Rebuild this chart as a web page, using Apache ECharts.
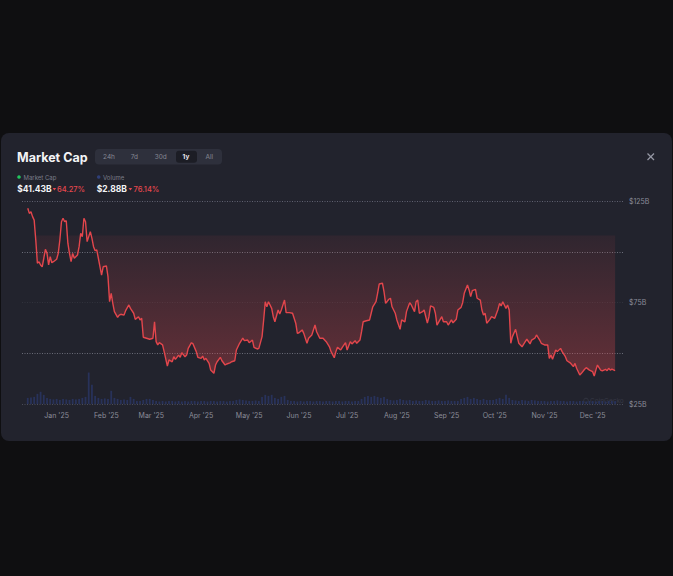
<!DOCTYPE html>
<html>
<head>
<meta charset="utf-8">
<script src="https://cdn.jsdelivr.net/npm/echarts@6/dist/echarts.min.js"></script>
<style>
html,body{margin:0;padding:0;background:#0f0f11;width:673px;height:576px;overflow:hidden;}
#card{position:absolute;left:1px;top:133px;width:671px;height:308px;background:#22232d;border-radius:8px;}
#chart{position:absolute;left:0;top:0;width:673px;height:576px;}
</style>
</head>
<body>
<div id="card"></div>
<div id="chart"></div>
<script>
// ---- data ----
const priceDates = [
  '2024-12-14','2024-12-15','2024-12-16','2024-12-17','2024-12-18','2024-12-19','2024-12-20','2024-12-21','2024-12-22','2024-12-23','2024-12-24','2024-12-25','2024-12-26','2024-12-27','2024-12-28','2024-12-29','2024-12-30',
  '2025-01-01','2025-01-02','2025-01-03','2025-01-04','2025-01-05','2025-01-06','2025-01-07','2025-01-08','2025-01-09','2025-01-10','2025-01-11','2025-01-12','2025-01-14','2025-01-15','2025-01-16','2025-01-17','2025-01-18','2025-01-19','2025-01-20','2025-01-22','2025-01-23','2025-01-24','2025-01-25','2025-01-26','2025-01-27','2025-01-29','2025-01-30',
  '2025-02-01','2025-02-02','2025-02-03','2025-02-04','2025-02-05','2025-02-06','2025-02-08','2025-02-09','2025-02-10','2025-02-12','2025-02-13','2025-02-15','2025-02-16','2025-02-18','2025-02-19','2025-02-21','2025-02-22','2025-02-23','2025-02-24','2025-02-26','2025-02-28',
  '2025-03-02','2025-03-03','2025-03-04','2025-03-05','2025-03-06','2025-03-08','2025-03-09','2025-03-11','2025-03-12','2025-03-14','2025-03-15','2025-03-16','2025-03-18','2025-03-19','2025-03-20','2025-03-22','2025-03-23','2025-03-24','2025-03-26','2025-03-27','2025-03-29','2025-03-30',
  '2025-04-01','2025-04-02','2025-04-03','2025-04-04','2025-04-06','2025-04-07','2025-04-09','2025-04-10','2025-04-11','2025-04-13','2025-04-14','2025-04-16','2025-04-17','2025-04-19','2025-04-20','2025-04-22','2025-04-23','2025-04-25','2025-04-27','2025-04-28','2025-04-30',
  '2025-05-01','2025-05-03','2025-05-04','2025-05-06','2025-05-07','2025-05-09','2025-05-10','2025-05-11','2025-05-12','2025-05-13','2025-05-15','2025-05-16','2025-05-17','2025-05-19','2025-05-20','2025-05-21','2025-05-23','2025-05-24','2025-05-26','2025-05-28','2025-05-30','2025-05-31',
  '2025-06-01','2025-06-03','2025-06-04','2025-06-06','2025-06-07','2025-06-09','2025-06-11','2025-06-12','2025-06-14','2025-06-16','2025-06-18','2025-06-20','2025-06-21','2025-06-23','2025-06-24','2025-06-25','2025-06-27','2025-06-28','2025-06-30',
  '2025-07-01','2025-07-03','2025-07-04','2025-07-06','2025-07-07','2025-07-09','2025-07-10','2025-07-11','2025-07-13','2025-07-15','2025-07-16','2025-07-17','2025-07-19','2025-07-20','2025-07-21','2025-07-23','2025-07-24','2025-07-25','2025-07-27','2025-07-28','2025-07-29','2025-07-31',
  '2025-08-01','2025-08-03','2025-08-04','2025-08-06','2025-08-07','2025-08-09','2025-08-10','2025-08-12','2025-08-13','2025-08-14','2025-08-15','2025-08-17','2025-08-18','2025-08-20','2025-08-21','2025-08-22','2025-08-24','2025-08-25','2025-08-26','2025-08-28','2025-08-29','2025-08-30',
  '2025-09-01','2025-09-02','2025-09-04','2025-09-05','2025-09-07','2025-09-08','2025-09-10','2025-09-11','2025-09-12','2025-09-14','2025-09-15','2025-09-16','2025-09-17','2025-09-19','2025-09-20','2025-09-22','2025-09-23','2025-09-24','2025-09-25','2025-09-26','2025-09-28','2025-09-29',
  '2025-10-01','2025-10-03','2025-10-04','2025-10-05','2025-10-06','2025-10-08','2025-10-09','2025-10-10','2025-10-11','2025-10-12','2025-10-14','2025-10-15','2025-10-16','2025-10-18','2025-10-20','2025-10-21','2025-10-23','2025-10-24','2025-10-26','2025-10-27','2025-10-29','2025-10-30',
  '2025-11-01','2025-11-03','2025-11-04','2025-11-05','2025-11-06','2025-11-08','2025-11-09','2025-11-11','2025-11-12','2025-11-14','2025-11-15','2025-11-17','2025-11-19','2025-11-20','2025-11-21','2025-11-23','2025-11-24','2025-11-26','2025-11-27','2025-11-29',
  '2025-12-01','2025-12-02','2025-12-03','2025-12-04','2025-12-06','2025-12-07','2025-12-09','2025-12-10','2025-12-11','2025-12-12','2025-12-13','2025-12-15'
];
// market cap, billions USD
const marketCap = [
  121.4,118.9,119.7,117.3,115.6,105.8,94.3,95.1,93.5,92.6,96.8,101.2,99.2,93.5,97.6,94.6,95.1,
  96.3,99.2,105.8,114.8,116.5,114.8,115.3,104.2,99.2,95.1,99.2,96.8,98.4,102.5,109.1,107.4,116.5,114.8,105.0,109.9,106.6,102.5,100.5,100.9,96.8,88.5,92.6,
  93.0,87.7,75.4,79.5,74.6,70.5,67.7,68.8,69.2,68.8,71.0,73.8,72.1,69.7,66.7,68.0,66.4,67.2,57.9,57.4,56.9,
  57.4,65.5,55.7,54.1,55.2,54.1,50.8,43.7,46.7,45.8,48.3,47.0,49.1,48.0,50.3,48.3,49.1,52.4,55.2,54.6,50.8,48.0,
  47.5,48.6,46.7,47.5,45.0,41.7,40.1,44.2,45.8,48.0,46.3,44.2,44.7,45.3,45.8,46.3,51.6,54.9,57.4,56.2,56.5,
  55.2,56.5,52.9,52.1,52.4,58.2,66.4,75.4,72.9,75.4,72.1,68.0,65.5,71.3,69.3,71.3,76.2,70.0,70.0,69.7,64.8,59.8,
  60.1,61.5,59.8,54.9,57.4,59.0,63.9,60.6,57.4,57.4,55.7,53.2,50.8,47.8,50.8,52.9,51.6,52.9,55.2,
  51.6,55.7,54.6,56.2,54.9,56.5,60.6,65.5,66.0,66.4,69.7,72.9,75.4,79.5,84.1,84.5,80.3,74.6,76.6,77.1,72.9,69.7,
  66.4,61.8,66.4,65.5,70.5,74.9,73.8,70.5,75.4,76.2,69.7,70.5,71.3,64.8,68.0,73.3,72.6,69.7,63.9,66.7,68.0,65.5,
  65.5,63.9,66.4,65.0,66.7,71.3,72.6,74.9,79.5,83.6,81.2,77.9,80.8,81.5,77.1,76.2,71.3,68.8,69.7,64.8,66.7,68.0,
  67.2,71.6,74.6,73.3,75.4,72.1,73.8,71.3,54.9,58.2,61.8,58.2,54.9,53.2,55.7,56.9,54.6,56.5,57.4,59.0,56.5,54.9,
  54.1,54.1,47.5,49.1,47.0,51.6,50.8,52.4,50.8,48.3,46.3,45.3,43.4,45.0,42.6,39.3,40.1,42.1,42.9,41.7,
  40.9,38.8,41.7,44.2,41.7,41.3,42.1,41.4,42.6,41.7,42.2,41.43
];
// volume, billions USD, one bar every 2 days starting at volumeStart
const volumeStart = [2024, 12, 14];
const volumeStepDays = 2;
const volume = [
  6,6.5,7, 10,12,9, 6,5,4.5,5, 4,5,4.5,4,5,4.5,5,6, 7,31,19,8,6,5,5.5,5, 13,6,5,4,4.5,4,7,5, 3,3,4,5,5,4,
  3,2.5,3,2.5,3,3,2.5,3,2.5,3,2.5,3,3,2.5,3,3,2.5,3,3,2.5,3,3,2.5,3,3,
  4,4.5,4,3.5, 3,3,3.5,3, 7,9,8,9,6, 5,7,8,4,3,
  3,2.5,3,2.5,3,3,2.5,3,3,2.5,3,3,2.5,3,3,2.5,3,
  3,2.5,3,3, 5,7,8,7,8,7,6,7,5, 4,3.5,4,5,4,3.5,4,3,3.5,3,
  3,4,3.5,3,3,3.5,3,3,3.5,3,3,3, 5,6,7,5,6,5,4,5,4,4, 4,5,6,5,9,6, 4,3.5,3,4,3.5,3,4,3.5,3,
  3,3,2.5,3,3,3.5,3,3,2.5,3,3,2.5,3,3,2.5,3,3,2.5,3,3,2.5,3,3,2.88
];
const monthTicks = ['2025-01-01','2025-02-01','2025-03-01','2025-04-01','2025-05-01','2025-06-01','2025-07-01','2025-08-01','2025-09-01','2025-10-01','2025-11-01','2025-12-01'];
const monthNames = ['Jan','Feb','Mar','Apr','May','Jun','Jul','Aug','Sep','Oct','Nov','Dec'];
const yLabelValues = [25, 75, 125];
const fillCeiling = 108;
const rangeLabels = ['24h','7d','30d','1y','All'];

// ---- build ----
function ts(s){ const p = s.split('-').map(Number); return new Date(p[0], p[1]-1, p[2]).getTime(); }
const mcData = priceDates.map((d,i)=>[ts(d), marketCap[i]]);
const volData = volume.map((v,i)=>[new Date(volumeStart[0], volumeStart[1]-1, volumeStart[2] + i*volumeStepDays).getTime(), v]);
const xMin = new Date(2024, 11, 10, 10).getTime();
const xMax = new Date(2025, 11, 19, 22).getTime();

const FONT = 'Inter, "Noto Sans", sans-serif';
const red = '#e5484d';
const gray = '#8b8d99';

function txt(x, y, text, size, color, weight, align){
  return { type:'text', x:x, y:y, silent:true,
    style:{ text:text, fill:color, font:(weight||'normal')+' '+size+'px '+FONT,
      textAlign:align||'left', textVerticalAlign:'middle', align:align||'left', verticalAlign:'middle' } };
}
const btnX = [109, 134.3, 160.7, 186, 209.3];
const graphics = [
  txt(17, 157, 'Market Cap', 12.5, '#f3f4f6', 'bold'),
  { type:'rect', silent:true, shape:{x:95, y:149, width:127, height:15.5, r:4}, style:{fill:'#2e303c'} },
  { type:'rect', silent:true, shape:{x:176, y:150.8, width:21, height:12, r:3}, style:{fill:'#1c1d25'} }
];
rangeLabels.forEach((l,i)=>{
  graphics.push(txt(btnX[i], 157, l, 6.5, l==='1y' ? '#e8e9ec' : '#858793', l==='1y' ? 'bold' : 'normal', 'center'));
});
graphics.push(
  { type:'circle', silent:true, shape:{cx:19, cy:177, r:1.8}, style:{fill:'#22c55e'} },
  txt(23.5, 177, 'Market Cap', 6, '#7b7d89'),
  { type:'circle', silent:true, shape:{cx:98.7, cy:177, r:1.8}, style:{fill:'#2f3f78'} },
  txt(103, 177, 'Volume', 6, '#7b7d89'),
  txt(17.3, 189.3, '$41.43B', 8.5, '#f3f4f6', 'bold'),
  { type:'polygon', silent:true, shape:{points:[[52.6,187.9],[56.2,187.9],[54.4,190.4]]}, style:{fill:red} },
  txt(57, 189.3, '64.27%', 7.5, red, '500'),
  txt(96.7, 189.3, '$2.88B', 8.5, '#f3f4f6', 'bold'),
  { type:'polygon', silent:true, shape:{points:[[128.6,187.9],[132.2,187.9],[130.4,190.4]]}, style:{fill:red} },
  txt(133.5, 189.3, '76.14%', 7.5, red, '500'),
  { type:'line', silent:true, shape:{x1:647.5, y1:153.5, x2:654, y2:160}, style:{stroke:'#9597a3', lineWidth:1.3} },
  { type:'line', silent:true, shape:{x1:654, y1:153.5, x2:647.5, y2:160}, style:{stroke:'#9597a3', lineWidth:1.3} },
  { type:'circle', silent:true, shape:{cx:586, cy:400.5, r:2.3}, style:{fill:'none', stroke:'#363845', lineWidth:0.8} },
  txt(590, 400.5, 'CoinGecko', 6.5, '#363845')
);

// fill between the market-cap line and the ceiling, drawn once through the axes
function renderFill(params, api){
  if (params.dataIndex !== 0) return null;
  const pts = [];
  for (let i = 0; i < mcData.length; i++) pts.push(api.coord([mcData[i][0], marketCap[i]]));
  for (let i = mcData.length - 1; i >= 0; i--) pts.push(api.coord([mcData[i][0], Math.max(marketCap[i], fillCeiling)]));
  const yTop = api.coord([mcData[0][0], fillCeiling])[1];
  const yBot = api.coord([mcData[0][0], 38])[1];
  return {
    type:'polygon', silent:true,
    shape:{points:pts},
    style:{ fill:new echarts.graphic.LinearGradient(0, yTop, 0, yBot, [
      {offset:0, color:'rgba(229,72,77,0.07)'},
      {offset:1, color:'rgba(229,72,77,0.34)'}], true) }
  };
}

const chart = echarts.init(document.getElementById('chart'), null, {renderer:'svg', width:673, height:576});
chart.setOption({
  animation:false,
  backgroundColor:'transparent',
  textStyle:{fontFamily:FONT},
  grid:{left:22, right:50, top:201, bottom:172, containLabel:false, outerBoundsMode:'none'},
  xAxis:{
    type:'value', min:xMin, max:xMax, scale:true,
    axisLine:{show:false}, axisTick:{show:false}, splitLine:{show:false},
    axisLabel:{
      customValues: monthTicks.map(ts),
      color:gray, fontSize:7, margin:8, fontFamily:FONT,
      formatter:function(v){ const d = new Date(v); return monthNames[d.getMonth()] + " '" + String(d.getFullYear()).slice(2); }
    }
  },
  yAxis:[
    { type:'value', position:'right', min:25, max:125, interval:25,
      axisLine:{show:false}, axisTick:{show:false},
      axisLabel:{ color:gray, fontSize:7, margin:6, fontFamily:FONT,
        formatter:function(v){ return yLabelValues.indexOf(v) >= 0 ? '$' + v + 'B' : ''; } },
      splitLine:{ show:true, lineStyle:{ type:[1,1.5], width:1,
        color:['#4a4c58','#696b77','#30323c','#6b6d79','#5f6170'] } }
    },
    { type:'value', min:0, max:200, show:false, splitLine:{show:false} }
  ],
  graphic:{ elements: graphics },
  series:[
    { name:'Volume', type:'bar', xAxisIndex:0, yAxisIndex:1, data:volData, barWidth:1.8,
      itemStyle:{color:'#28325a'}, silent:true, z:1 },
    { name:'fill', type:'custom', data:mcData, renderItem:renderFill, clip:true, silent:true, z:3 },
    { name:'Market Cap', type:'line', data:mcData, symbol:'none', smooth:false,
      lineStyle:{color:'#e3464c', width:1.4}, z:5, silent:true }
  ]
});
</script>
</body>
</html>
